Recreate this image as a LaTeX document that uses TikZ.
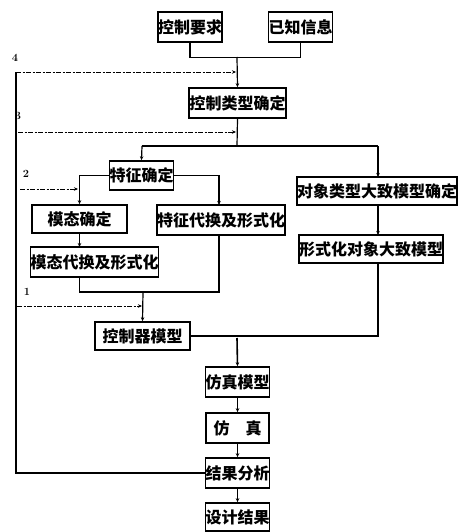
\documentclass[tikz,border=0pt]{standalone}
\usepackage{fontspec}
\newfontfamily\cjk{Noto Sans CJK SC}
\usetikzlibrary{arrows.meta}
\begin{document}
\begin{tikzpicture}[x=1pt,y=-1pt,
  box/.style={draw,line width=1.6pt,inner sep=0pt,font=\cjk\bfseries\fontsize{16}{16}\selectfont},
  conn/.style={line width=1.2pt},
  arr/.style={conn,-{Stealth[length=4pt,width=3.5pt]}},
  fb/.style={line width=0.8pt,dash pattern=on 5pt off 1.5pt on 2pt off 1.5pt,-{Stealth[length=4pt,width=3.5pt]}},
  lbl/.style={font=\bfseries\fontsize{11}{11}\selectfont,inner sep=0pt}]
\useasboundingbox (0,0) rectangle (463,532);
% boxes
\node[box,minimum width=64pt,minimum height=30pt] (req) at (190,27) {控制要求};
\node[box,minimum width=63pt,minimum height=30pt] (known) at (300.5,27) {已知信息};
\node[box,minimum width=97pt,minimum height=30pt] (ctype) at (237.5,103) {控制类型确定};
\node[box,minimum width=63pt,minimum height=29pt] (feat) at (141.5,175.5) {特征确定};
\node[box,minimum width=95pt,minimum height=28pt] (modal) at (79.5,219) {模态确定};
\node[box,minimum width=128pt,minimum height=30pt] (featsub) at (221,220) {特征代换及形式化};
\node[box,minimum width=125pt,minimum height=30pt] (modalsub) at (94.5,262) {模态代换及形式化};
\node[box,minimum width=156pt,minimum height=28pt] (obj) at (377,191) {对象类型大致模型确定};
\node[box,minimum width=144pt,minimum height=28pt] (formal) at (371,249) {形式化对象大致模型};
\node[box,minimum width=95pt,minimum height=28pt] (ctrl) at (142.5,336) {控制器模型};
\node[box,minimum width=63pt,minimum height=30pt] (simmodel) at (237.5,382) {仿真模型};
\node[box,minimum width=63pt,minimum height=30pt] (sim) at (237.5,428) {仿\quad 真};
\node[box,minimum width=63pt,minimum height=30pt] (ana) at (237.5,473) {结果分析};
\node[box,minimum width=63pt,minimum height=28pt] (res) at (237.5,517) {设计结果};
% junction coordinates
\coordinate (j1) at (237,57);
\coordinate (j2) at (237,146);
\coordinate (j3) at (143,292);
\coordinate (j4) at (237,338);
\coordinate (d4) at (16,72);
\coordinate (t4) at (236,72);
\coordinate (d3) at (18,132);
\coordinate (t3) at (236,132);
\coordinate (d2) at (20,189);
\coordinate (t2) at (78,189);
\coordinate (d1) at (17,306);
\coordinate (t1) at (142,306);
% connectors
\draw[conn] (req.south) -- ++(0,15) -| (known.south);
\draw[arr] (j1) -- (ctype.north);
\draw[conn] (ctype.south) -- (j2);
\draw[conn] (142,146) -- (378,146);
\draw[arr] (142,146) -- (feat.north);
\draw[arr] (378,146) -- (378,177);
\draw[arr] (feat.west) -| (modal.north);
\draw[arr] (feat.east) -| (219,205);
\draw[arr] (modal.south) -- (79.5,247);
\draw[conn] (79.5,277) -- (79.5,292) -| (219,235);
\draw[arr] (j3) -- (ctrl.north);
\draw[arr] (378,205) -- (378,235);
\draw[conn] (378,263) |- (ctrl.east);
\draw[arr,line width=1.6pt] (j4) -- (simmodel.north);
\draw[arr] (simmodel.south) -- (sim.north);
\draw[arr] (sim.south) -- (ana.north);
\draw[arr] (ana.south) -- (res.north);
\draw[conn] (ana.west) -| (d4);
% feedback dashed lines
\draw[fb] (d4) -- (t4);
\draw[fb] (d3) -- (t3);
\draw[fb] (d2) -- (t2);
\draw[fb] (d1) -- (t1);
% labels
\node[lbl] (l4) at (15,58) {4};
\node[lbl] (l3) at (18,116) {3};
\node[lbl] (l2) at (26,174) {2};
\node[lbl] (l1) at (27,292) {1};
\end{tikzpicture}
\end{document}
